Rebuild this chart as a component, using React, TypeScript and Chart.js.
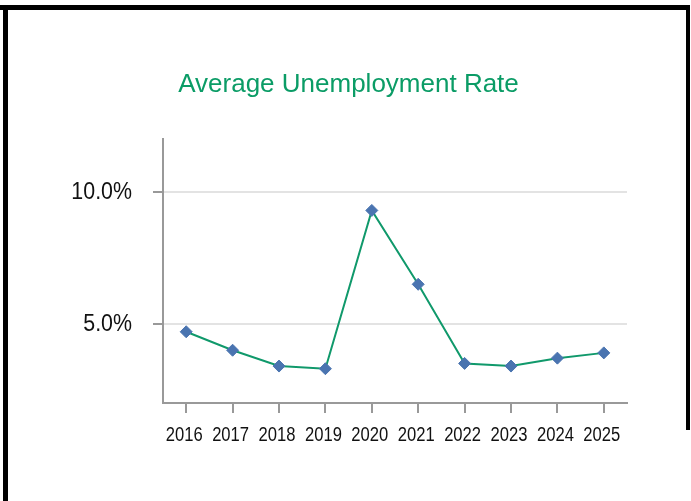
import React, { useEffect, useRef } from "react";
import { Chart, registerables } from "chart.js";

Chart.register(...registerables);

const years = ["2016", "2017", "2018", "2019", "2020", "2021", "2022", "2023", "2024", "2025"];
const unemploymentRate = [4.7, 4.0, 3.4, 3.3, 9.3, 6.5, 3.5, 3.4, 3.7, 3.9];
const yTickValues = [5, 10];
const chartTitle = "Average Unemployment Rate";

const SANS = "'Liberation Sans', Arial, sans-serif";
const AXIS_GRAY = "#999999";
const LABEL_COLOR = "#111111";

// Draws the tick labels of both axes in a condensed (horizontally scaled) face,
// positioned by the library's own scales.
const condensedTickLabels = {
  id: "condensedTickLabels",
  afterDraw(chart: any) {
    const ctx = chart.ctx as CanvasRenderingContext2D;
    const xs = chart.scales.x;
    const ys = chart.scales.y;
    ctx.save();
    ctx.fillStyle = LABEL_COLOR;
    ctx.textBaseline = "alphabetic";
    ctx.textAlign = "center";
    ctx.font = `20px ${SANS}`;
    xs.ticks.forEach((t: any, i: number) => {
      const label = String(xs.getLabelForValue(t.value));
      const px = xs.getPixelForTick(i) - 2;
      ctx.save();
      ctx.translate(px, xs.top + 38);
      ctx.scale(0.83, 1);
      ctx.fillText(label, 0, 0);
      ctx.restore();
    });
    ctx.textAlign = "right";
    ctx.font = `23px ${SANS}`;
    ys.ticks.forEach((t: any) => {
      const label = Number(t.value).toFixed(1) + "%";
      const py = ys.getPixelForValue(t.value);
      ctx.save();
      ctx.translate(ys.right - 31, py + 7);
      ctx.scale(0.93, 1);
      ctx.fillText(label, 0, 0);
      ctx.restore();
    });
    ctx.restore();
  },
};

export default function App() {
  const canvasRef = useRef<HTMLCanvasElement | null>(null);

  useEffect(() => {
    if (!canvasRef.current) return;
    const chart = new Chart(canvasRef.current, {
      type: "line",
      data: {
        labels: years,
        datasets: [
          {
            data: unemploymentRate,
            borderColor: "#10996b",
            borderWidth: 2,
            pointStyle: "rectRot",
            pointRadius: 6,
            pointBackgroundColor: "#4a74b0",
            pointBorderColor: "#4a74b0",
            pointBorderWidth: 1,
            tension: 0,
          },
        ],
      },
      plugins: [condensedTickLabels],
      options: {
        animation: false,
        responsive: false,
        maintainAspectRatio: false,
        layout: { padding: { left: 70, right: 64, top: 0, bottom: 0 } },
        plugins: {
          legend: { display: false },
          tooltip: { enabled: false },
          title: {
            display: true,
            text: chartTitle,
            color: "#0b9c66",
            font: { family: SANS, size: 26, weight: "normal" },
            padding: { top: 69, bottom: 39 },
          },
        },
        scales: {
          x: {
            type: "category",
            offset: true,
            grid: {
              display: true,
              drawOnChartArea: false,
              drawTicks: true,
              tickLength: 10,
              tickColor: AXIS_GRAY,
              lineWidth: 2,
              offset: false,
            },
            border: { display: true, color: AXIS_GRAY, width: 2 },
            ticks: { display: false, autoSkip: false, maxRotation: 0 },
            afterFit: (scale: any) => {
              scale.height = 98;
            },
          },
          y: {
            type: "linear",
            min: 2,
            max: 12,
            afterBuildTicks: (axis: any) => {
              axis.ticks = yTickValues.map((v) => ({ value: v }));
            },
            grid: {
              display: true,
              color: "#e3e3e3",
              lineWidth: 2,
              drawTicks: true,
              tickLength: 10,
              tickColor: AXIS_GRAY,
            },
            border: { display: true, color: AXIS_GRAY, width: 2 },
            ticks: { display: false },
            afterFit: (scale: any) => {
              scale.width = 93;
            },
          },
        },
      },
    });
    return () => chart.destroy();
  }, []);

  const bar = (style: React.CSSProperties) => (
    <div style={{ position: "absolute", background: "#000", zIndex: 2, ...style }} />
  );

  return (
    <div style={{ position: "fixed", left: 0, top: 0, width: 691, height: 501, background: "#fff", overflow: "hidden" }}>
      <canvas ref={canvasRef} width={691} height={501} style={{ position: "absolute", left: 0, top: 0 }} />
      {bar({ left: 0, top: 5, width: 690, height: 5 })}
      {bar({ left: 3, top: 5, width: 5, height: 496 })}
      {bar({ left: 686, top: 5, width: 4, height: 425 })}
    </div>
  );
}
